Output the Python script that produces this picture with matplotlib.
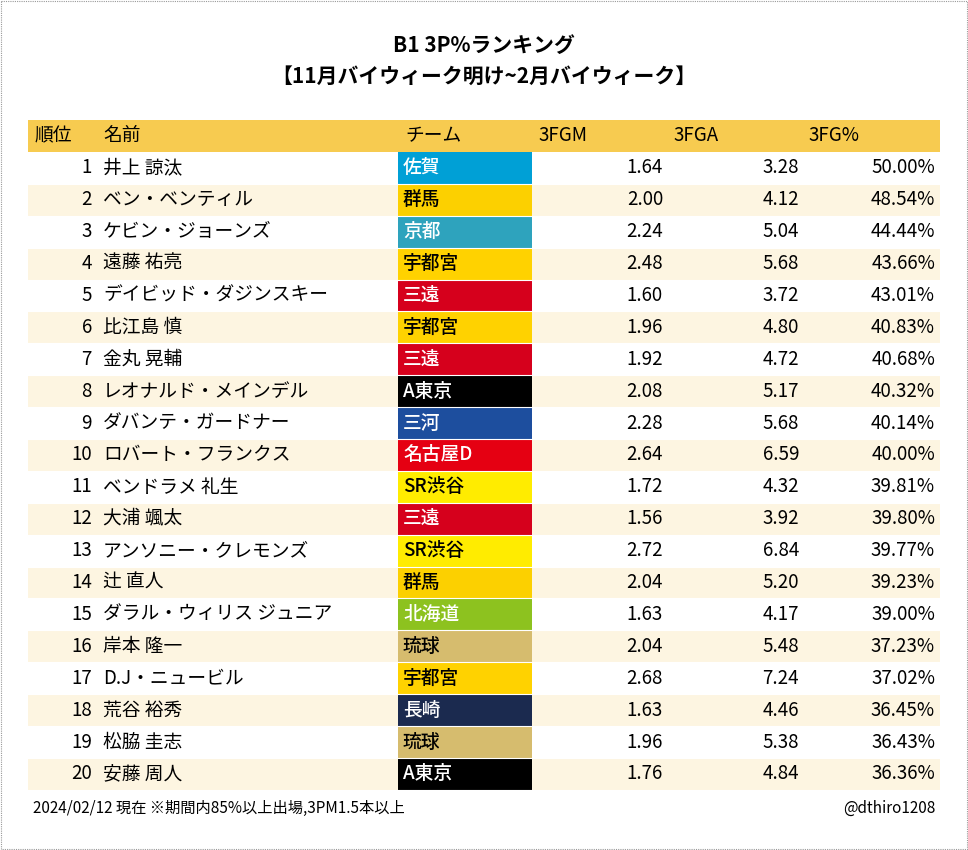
import matplotlib.pyplot as plt
from matplotlib.patches import Rectangle

plt.rcParams['font.family'] = ['Noto Sans CJK JP', 'DejaVu Sans']

names = ["井上 諒汰", "ベン・ベンティル", "ケビン・ジョーンズ", "遠藤 祐亮", "デイビッド・ダジンスキー",
         "比江島 慎", "金丸 晃輔", "レオナルド・メインデル", "ダバンテ・ガードナー", "ロバート・フランクス",
         "ベンドラメ 礼生", "大浦 颯太", "アンソニー・クレモンズ", "辻 直人", "ダラル・ウィリス ジュニア",
         "岸本 隆一", "D.J・ニュービル", "荒谷 裕秀", "松脇 圭志", "安藤 周人"]
teams = ["佐賀", "群馬", "京都", "宇都宮", "三遠", "宇都宮", "三遠", "A東京", "三河", "名古屋D",
         "SR渋谷", "三遠", "SR渋谷", "群馬", "北海道", "琉球", "宇都宮", "長崎", "琉球", "A東京"]
fgm = [1.64, 2.00, 2.24, 2.48, 1.60, 1.96, 1.92, 2.08, 2.28, 2.64,
       1.72, 1.56, 2.72, 2.04, 1.63, 2.04, 2.68, 1.63, 1.96, 1.76]
fga = [3.28, 4.12, 5.04, 5.68, 3.72, 4.80, 4.72, 5.17, 5.68, 6.59,
       4.32, 3.92, 6.84, 5.20, 4.17, 5.48, 7.24, 4.46, 5.38, 4.84]
pct = [50.00, 48.54, 44.44, 43.66, 43.01, 40.83, 40.68, 40.32, 40.14, 40.00,
       39.81, 39.80, 39.77, 39.23, 39.00, 37.23, 37.02, 36.45, 36.43, 36.36]

team_colors = {
    "佐賀": ("#00A0D6", "white"), "群馬": ("#FCD000", "black"), "京都": ("#2EA3BD", "white"),
    "宇都宮": ("#FFD200", "black"), "三遠": ("#D6001C", "white"), "A東京": ("#000000", "white"),
    "三河": ("#1D4E9E", "white"), "名古屋D": ("#E50012", "white"), "SR渋谷": ("#FFEC00", "black"),
    "北海道": ("#8DC21F", "white"), "琉球": ("#D6BC6E", "black"), "長崎": ("#1B2A4F", "white"),
}

W, H = 968, 850
fig = plt.figure(figsize=(W / 100, H / 100), dpi=100)
ax = fig.add_axes([0, 0, 1, 1])
ax.set_xlim(0, W)
ax.set_ylim(H, 0)
ax.axis('off')
ax.add_patch(Rectangle((1, 1), W - 2, H - 2, fill=False, edgecolor='#999999', lw=0.8, ls=(0, (1, 1))))

ax.text(W / 2, 45, "B1 3P%ランキング", ha='center', va='center', fontsize=15, fontweight='bold')
ax.text(W / 2, 76, "【11月バイウィーク明け~2月バイウィーク】", ha='center', va='center', fontsize=15, fontweight='bold')

x0, x1 = 28, 940
top, rh = 120, 31.9
fs = 13.5
ax.add_patch(Rectangle((x0, top), x1 - x0, rh, color='#F7CB50', lw=0))
hy = top + rh / 2
for x, t in [(35, "順位"), (103, "名前"), (405, "チーム"), (538, "3FGM"), (673, "3FGA"), (808, "3FG%")]:
    ax.text(x, hy, t, ha='left', va='center', fontsize=fs)

for i in range(len(names)):
    y = top + rh * (i + 1)
    cy = y + rh / 2
    if i % 2 == 1:
        ax.add_patch(Rectangle((x0, y), x1 - x0, rh, color='#FDF5E1', lw=0))
    bg, fc = team_colors[teams[i]]
    ax.add_patch(Rectangle((398, y), 134, rh, color=bg, lw=0))
    ax.plot([x0, x1], [y + rh, y + rh], color='white', lw=0.8)
    ax.text(92, cy, str(i + 1), ha='right', va='center', fontsize=fs)
    ax.text(103, cy, names[i], ha='left', va='center', fontsize=fs)
    ax.text(403, cy, teams[i], ha='left', va='center', fontsize=fs, color=fc, fontweight='medium')
    ax.text(663, cy, f"{fgm[i]:.2f}", ha='right', va='center', fontsize=fs)
    ax.text(799, cy, f"{fga[i]:.2f}", ha='right', va='center', fontsize=fs)
    ax.text(935, cy, f"{pct[i]:.2f}%", ha='right', va='center', fontsize=fs)

ax.text(33, 808, "2024/02/12 現在 ※期間内85%以上出場,3PM1.5本以上", ha='left', va='center', fontsize=11)
ax.text(935, 808, "@dthiro1208", ha='right', va='center', fontsize=11)

fig.savefig("out.png", dpi=100)
